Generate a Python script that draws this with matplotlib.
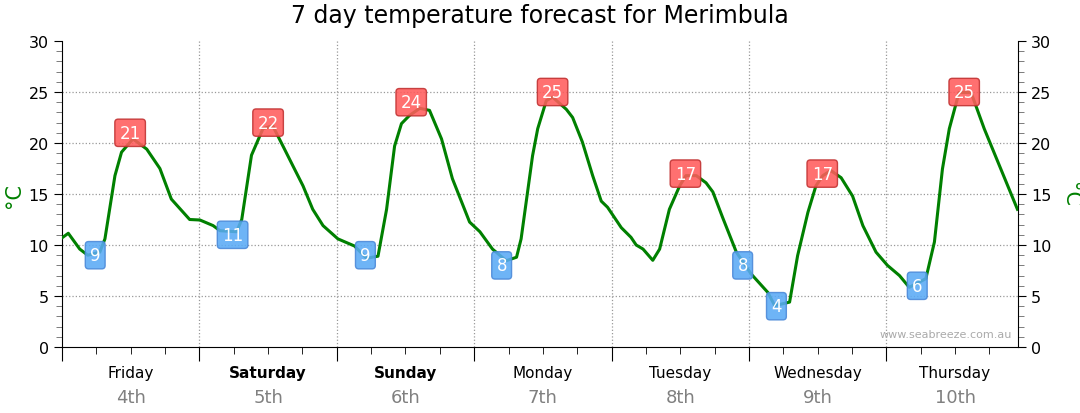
import numpy as np
import matplotlib.pyplot as plt
from matplotlib.ticker import MultipleLocator

# hours since Friday 00:00, temperature in degrees C
hours = [0, 1.1, 3.1, 4.5, 6.6, 7.5, 9.25, 10.4, 12.4, 14.8, 17.1, 19.1, 22.3, 24.1,
         26.4, 27.6, 30.5, 31.4, 33.1, 35.1, 36.8, 38.6, 40.3, 42.1, 43.8, 45.6, 48.2,
         51.1, 53.2, 55.2, 56.7, 58.1, 59.3, 60.7, 62.5, 64.2, 66.3, 68.2, 71.2, 73.0,
         75.2, 77.6, 79.4, 80.2, 82.2, 83.1, 84.6, 85.7, 88.1, 89.2, 90.9, 92.7, 94.2,
         95.3, 97.7, 99.4, 100.3, 101.5, 103.2, 104.4, 106.1, 107.9, 109.0, 110.8, 112.5,
         113.7, 115.4, 117.8, 120.4, 123.3, 124.5, 127.1, 128.5, 130.3, 131.7, 132.9,
         134.3, 136.1, 138.1, 139.9, 142.2, 144.2, 146.3, 148.0, 150.9, 152.4, 153.8,
         155.0, 156.7, 158.8, 161.1, 164.0, 166.9]
temps = [10.7, 11.15, 9.6, 9.0, 9.3, 10.6, 16.8, 19.1, 20.4, 19.4, 17.5, 14.5, 12.5, 12.45,
         11.9, 11.4, 11.3, 12.5, 18.8, 21.4, 21.7, 19.7, 17.8, 15.8, 13.5, 11.9, 10.6,
         9.9, 8.7, 8.9, 13.5, 19.7, 21.9, 22.7, 23.4, 23.2, 20.4, 16.5, 12.25, 11.3,
         9.6, 8.46, 8.8, 10.6, 18.75, 21.4, 24.15, 24.5, 23.3, 22.5, 20.1, 16.8, 14.3,
         13.7, 11.7, 10.75, 10.0, 9.6, 8.5, 9.6, 13.5, 15.8, 16.8, 16.8, 16.1,
         15.2, 12.7, 9.3, 7.15, 5.35, 4.05, 4.4, 8.95, 13.2, 15.8, 16.8,
         17.3, 16.6, 14.8, 11.9, 9.3, 8.0, 7.0, 5.85, 6.7, 10.3, 17.45,
         21.4, 24.95, 24.95, 21.4, 17.45, 13.5]

# min / max labels
min_hours = [5.8, 29.8, 53.0, 76.8, 118.9, 124.8, 149.4]
min_vals = [9, 11, 9, 8, 8, 4, 6]
max_hours = [11.9, 36.0, 61.0, 85.7, 108.9, 132.8, 157.6]
max_vals = [21, 22, 24, 25, 17, 17, 25]

days = ['Friday', 'Saturday', 'Sunday', 'Monday', 'Tuesday', 'Wednesday', 'Thursday']
dates = ['4th', '5th', '6th', '7th', '8th', '9th', '10th']
weekend = ['Saturday', 'Sunday']

plt.rcParams['font.family'] = ['DejaVu Sans']

fig = plt.figure(figsize=(10.8, 4.14), dpi=100)
ax = fig.add_axes([62 / 1080, 66 / 414, 956 / 1080, 306 / 414])

ax.plot(hours, temps, color='#008000', lw=2.2, zorder=3, solid_joinstyle='round')

for h, v in zip(min_hours, min_vals):
    ax.text(h, v, str(v), color='white', fontsize=12, ha='center', va='center', zorder=4,
            bbox=dict(boxstyle='round,pad=0.28,rounding_size=0.2', fc='#5aaaf5', ec='#4a88d8', alpha=0.88, lw=1))
for h, v in zip(max_hours, max_vals):
    ax.text(h, v, str(v), color='white', fontsize=12, ha='center', va='center', zorder=4,
            bbox=dict(boxstyle='round,pad=0.28,rounding_size=0.2', fc='#ff5c5c', ec='#c03030', alpha=0.88, lw=1))

ax.set_xlim(0, 167)
ax.set_ylim(0, 30)

ax.spines['top'].set_visible(False)
ax.yaxis.set_major_locator(MultipleLocator(5))
ax.yaxis.set_minor_locator(MultipleLocator(1))
ax.tick_params(axis='y', which='both', left=True, right=True, labelleft=True, labelright=True,
               labelsize=11.5, direction='out')
ax.tick_params(axis='y', which='major', length=6)
ax.tick_params(axis='y', which='minor', length=4, color='#666666')

ax.set_xticks(np.arange(0, 168, 24))
ax.set_xticks(np.arange(0, 168, 6), minor=True)
ax.set_xticklabels([])
ax.tick_params(axis='x', which='major', length=10)
ax.tick_params(axis='x', which='minor', length=5)

for y in range(5, 30, 5):
    ax.axhline(y, color='#999999', ls=':', lw=0.9, zorder=1)
for x in range(24, 168, 24):
    ax.axvline(x, color='#999999', ls=':', lw=0.9, zorder=1)

for i, (d, dt) in enumerate(zip(days, dates)):
    xc = i * 24 + 12
    ax.text(xc, -1.8, d, ha='center', va='top', fontsize=11,
            fontweight='bold' if d in weekend else 'normal', clip_on=False)
    ax.text(xc, -4.0, dt, ha='center', va='top', fontsize=13, color='#808080', clip_on=False)

ax.text(-0.05, 0.5, '°C', color='#008000', fontsize=15, rotation=90,
        ha='center', va='center', transform=ax.transAxes)
ax.text(1.054, 0.5, '°C', color='#008000', fontsize=15, rotation=270,
        ha='center', va='center', transform=ax.transAxes)

ax.text(166, 0.8, 'www.seabreeze.com.au', ha='right', va='bottom', fontsize=8, color='#aaaaaa')

fig.suptitle('7 day temperature forecast for Merimbula', fontsize=17, y=0.99)

fig.savefig('out.png', dpi=100)
